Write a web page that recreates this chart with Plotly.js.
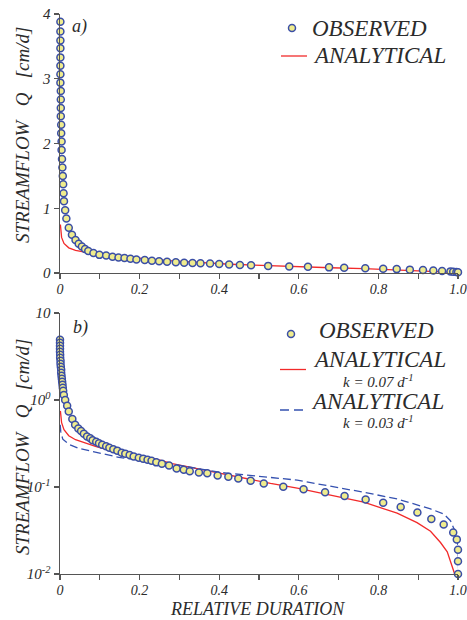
<!DOCTYPE html>
<html>
<head>
<meta charset="utf-8">
<script src="https://cdn.plot.ly/plotly-3.0.1.min.js"></script>
<style>html,body{margin:0;padding:0;background:#fff;}#chart{width:467px;height:620px;}</style>
</head>
<body>
<div id="chart"></div>
<script>
// ---- data ----
// panel a) observed (linear axis)
const obsTopX = [0.001,0.001,0.001,0.001,0.001,0.001,0.001,0.001,0.002,0.002,0.002,0.002,0.003,0.003,0.004,0.004,0.005,0.006,0.007,0.008,0.009,0.010,0.013,0.016,0.022,0.030,0.039,0.047,0.055,0.063,0.071,0.084,0.099,0.116,0.132,0.147,0.162,0.177,0.192,0.213,0.231,0.249,0.269,0.291,0.312,0.333,0.353,0.377,0.400,0.425,0.452,0.480,0.523,0.576,0.623,0.676,0.714,0.767,0.812,0.846,0.879,0.912,0.938,0.960,0.981,0.988,0.996,1.000];
const obsTopQ = [3.88,3.73,3.59,3.47,3.33,3.20,3.07,2.94,2.81,2.68,2.55,2.42,2.29,2.16,2.03,1.90,1.76,1.63,1.50,1.37,1.23,1.11,0.97,0.84,0.70,0.59,0.51,0.45,0.41,0.37,0.34,0.31,0.28,0.27,0.25,0.24,0.23,0.22,0.21,0.20,0.19,0.18,0.175,0.165,0.16,0.155,0.15,0.145,0.14,0.13,0.125,0.12,0.11,0.10,0.095,0.087,0.08,0.072,0.066,0.06,0.052,0.045,0.038,0.032,0.025,0.02,0.014,0.01];
// panel b) observed (log axis)
const obsBotX = [0,0,0,0,0,0.0004,0.0004,0.0013,0.0013,0.002,0.003,0.003,0.0038,0.0046,0.0054,0.0063,0.007,0.008,0.0096,0.013,0.018,0.022,0.031,0.038,0.046,0.053,0.060,0.068,0.076,0.082,0.091,0.098,0.106,0.116,0.124,0.134,0.144,0.155,0.164,0.175,0.185,0.198,0.209,0.220,0.230,0.242,0.256,0.274,0.293,0.311,0.326,0.349,0.370,0.396,0.423,0.448,0.479,0.512,0.561,0.612,0.666,0.715,0.768,0.812,0.856,0.898,0.933,0.964,0.988,0.997,1.000,1.000,1.000];
const obsBotQ = [4.93,4.56,4.21,3.89,3.59,3.32,3.06,2.83,2.61,2.41,2.23,2.06,1.90,1.76,1.62,1.50,1.38,1.28,1.14,1.00,0.86,0.74,0.605,0.52,0.47,0.44,0.41,0.38,0.363,0.344,0.332,0.318,0.307,0.294,0.283,0.271,0.262,0.248,0.242,0.233,0.225,0.217,0.212,0.206,0.201,0.192,0.185,0.177,0.163,0.158,0.152,0.147,0.144,0.136,0.131,0.125,0.118,0.110,0.101,0.094,0.087,0.079,0.072,0.066,0.059,0.051,0.043,0.037,0.030,0.025,0.019,0.014,0.010];
// analytical, k = 0.07 1/d
const anaK07X = [0.001,0.004,0.010,0.022,0.039,0.064,0.089,0.114,0.156,0.198,0.240,0.282,0.428,0.529,0.596,0.680,0.763,0.847,0.897,0.931,0.956,0.973,0.985,0.991,0.995];
const anaK07Q = [0.75,0.55,0.456,0.389,0.35,0.318,0.293,0.273,0.25,0.229,0.21,0.186,0.135,0.110,0.097,0.081,0.067,0.050,0.039,0.031,0.023,0.018,0.0125,0.0102,0.008];
// analytical, k = 0.03 1/d
const anaK03X = [0.0005,0.002,0.007,0.022,0.047,0.081,0.114,0.148,0.190,0.232,0.273,0.403,0.428,0.529,0.596,0.763,0.847,0.931,0.964,0.981,0.994,1.000,1.002];
const anaK03Q = [0.52,0.43,0.355,0.31,0.278,0.255,0.235,0.219,0.206,0.195,0.187,0.147,0.143,0.129,0.120,0.087,0.073,0.056,0.049,0.041,0.030,0.021,0.009];
// tick labels
const xTickVals = [0,0.2,0.4,0.6,0.8,1.0];
const xTickText = ['0','0.2','0.4','0.6','0.8','1.0'];
const xMinorVals = [0.1,0.3,0.5,0.7,0.9];
const yTopTickVals = [0,1,2,3,4];
const yBotTickVals = [0.01,0.1,1,10];
const yBotTickText = ['10<sup>-2</sup>','10<sup>-1</sup>','10<sup>0</sup>','10'];

// ---- styling ----
const SERIF = 'Liberation Serif';
const TXT = '#2b2b2b';
const AX = '#555555';
const RED = '#f22a2a';
const BLUE = '#3551b0';
const FILL = '#efec8e';
const EDGE = '#3a4ea6';

const marker = {symbol:'circle', size:7, color:FILL, line:{color:EDGE, width:1.5}};

const traces = [
  {x:anaK07X, y:anaK07Q, xaxis:'x', yaxis:'y', mode:'lines', line:{color:RED, width:1.3}},
  {x:obsTopX, y:obsTopQ, xaxis:'x', yaxis:'y', mode:'markers', marker:marker, cliponaxis:false},
  {x:anaK07X, y:anaK07Q, xaxis:'x2', yaxis:'y2', mode:'lines', line:{color:RED, width:1.3}},
  {x:anaK03X, y:anaK03Q, xaxis:'x2', yaxis:'y2', mode:'lines', line:{color:BLUE, width:1.3, dash:'8px,4px'}},
  {x:obsBotX, y:obsBotQ, xaxis:'x2', yaxis:'y2', mode:'markers', marker:marker, cliponaxis:false}
];

const tickFont = {family:SERIF, size:14, color:TXT, style:'italic'};
function xAxis(anchor){
  return {domain:[0,1], anchor:anchor, range:[0,1], showline:true, linecolor:AX, linewidth:1.4,
    ticks:'outside', ticklen:5, tickwidth:1.2, tickcolor:AX, tickmode:'array', tickvals:xTickVals, ticktext:xTickText,
    minor:{tickmode:'array', tickvals:xMinorVals, ticks:'outside', ticklen:5, tickwidth:1.2, tickcolor:AX, showgrid:false},
    ticklabelstandoff:-2, ticklabeloverflow:'allow', tickfont:tickFont, showgrid:false, zeroline:false, fixedrange:true};
}

// pixel -> paper helpers (plot area: x 60..458, y 14..574)
const px = v => (v-60)/398;
const py = v => (574-v)/560;

const legFont = {family:SERIF, size:23, color:TXT, style:'italic'};
const subFont = {family:SERIF, size:15, color:TXT, style:'italic'};
const ann = (x,y,text,opts) => Object.assign({xref:'paper', yref:'paper', x:px(x), y:py(y), text:text, showarrow:false, xanchor:'left', yanchor:'middle', font:legFont, borderpad:0}, opts||{});
const yTitle = 'STREAMFLOW\u00a0\u00a0\u00a0Q\u00a0\u00a0\u00a0[cm/d]';
const yTitleFont = {family:SERIF, size:19, color:TXT, style:'italic'};

const layout = {
  width:467, height:620, margin:{l:60, r:9, t:14, b:46},
  font:{family:SERIF, color:TXT},
  paper_bgcolor:'#ffffff', plot_bgcolor:'#ffffff', showlegend:false,
  xaxis: xAxis('y'),
  yaxis: {domain:[0.5375,1], anchor:'x', range:[0,4], showline:true, linecolor:AX, linewidth:1.4,
    ticks:'outside', ticklen:5, tickwidth:1.2, tickcolor:AX, tickmode:'array', tickvals:yTopTickVals,
    tickfont:{family:SERIF, size:15, color:TXT, style:'italic'}, showgrid:false, zeroline:false, fixedrange:true},
  xaxis2: xAxis('y2'),
  yaxis2: {domain:[0,0.466], anchor:'x2', type:'log', range:[-2,1], showline:true, linecolor:AX, linewidth:1.4,
    ticks:'outside', ticklen:5, tickwidth:1.2, tickcolor:AX, tickmode:'array', tickvals:yBotTickVals, ticktext:yBotTickText,
    tickfont:{family:SERIF, size:15, color:TXT, style:'italic'}, showgrid:false, zeroline:false, fixedrange:true},
  shapes: [
    // legend a)
    {type:'circle', xref:'paper', yref:'paper', xsizemode:'pixel', ysizemode:'pixel', xanchor:px(292), yanchor:py(28), x0:-3.5, x1:3.5, y0:-3.5, y1:3.5, fillcolor:FILL, line:{color:EDGE, width:1.5}},
    {type:'line', xref:'paper', yref:'paper', x0:px(281), x1:px(307), y0:py(56), y1:py(56), line:{color:RED, width:1.3}},
    // legend b)
    {type:'circle', xref:'paper', yref:'paper', xsizemode:'pixel', ysizemode:'pixel', xanchor:px(291), yanchor:py(334), x0:-3.5, x1:3.5, y0:-3.5, y1:3.5, fillcolor:FILL, line:{color:EDGE, width:1.5}},
    {type:'line', xref:'paper', yref:'paper', x0:px(280), x1:px(306), y0:py(369.5), y1:py(369.5), line:{color:RED, width:1.3}},
    {type:'line', xref:'paper', yref:'paper', x0:px(280), x1:px(306), y0:py(410), y1:py(410), line:{color:BLUE, width:1.3, dash:'9px,5px'}}
  ],
  annotations: [
    ann(71, 26, 'a)', {font:{family:SERIF, size:18, color:TXT, style:'italic'}}),
    ann(72, 327, 'b)', {font:{family:SERIF, size:18, color:TXT, style:'italic'}}),
    ann(311, 28, 'OBSERVED'),
    ann(312, 56, 'ANALYTICAL'),
    ann(318, 330, 'OBSERVED'),
    ann(312, 359, 'ANALYTICAL'),
    ann(378, 381, 'k = 0.07 d<sup>-1</sup>', {xanchor:'center', font:subFont}),
    ann(310, 401, 'ANALYTICAL'),
    ann(378, 422, 'k = 0.03 d<sup>-1</sup>', {xanchor:'center', font:subFont}),
    ann(22, 135, yTitle, {xanchor:'center', textangle:-90, font:yTitleFont}),
    ann(22, 447, yTitle, {xanchor:'center', textangle:-90, font:yTitleFont}),
    ann(257, 609, 'RELATIVE DURATION', {xanchor:'center', font:{family:SERIF, size:18, color:TXT, style:'italic'}})
  ]
};

Plotly.newPlot('chart', traces, layout, {displayModeBar:false, staticPlot:true});
</script>
</body>
</html>
